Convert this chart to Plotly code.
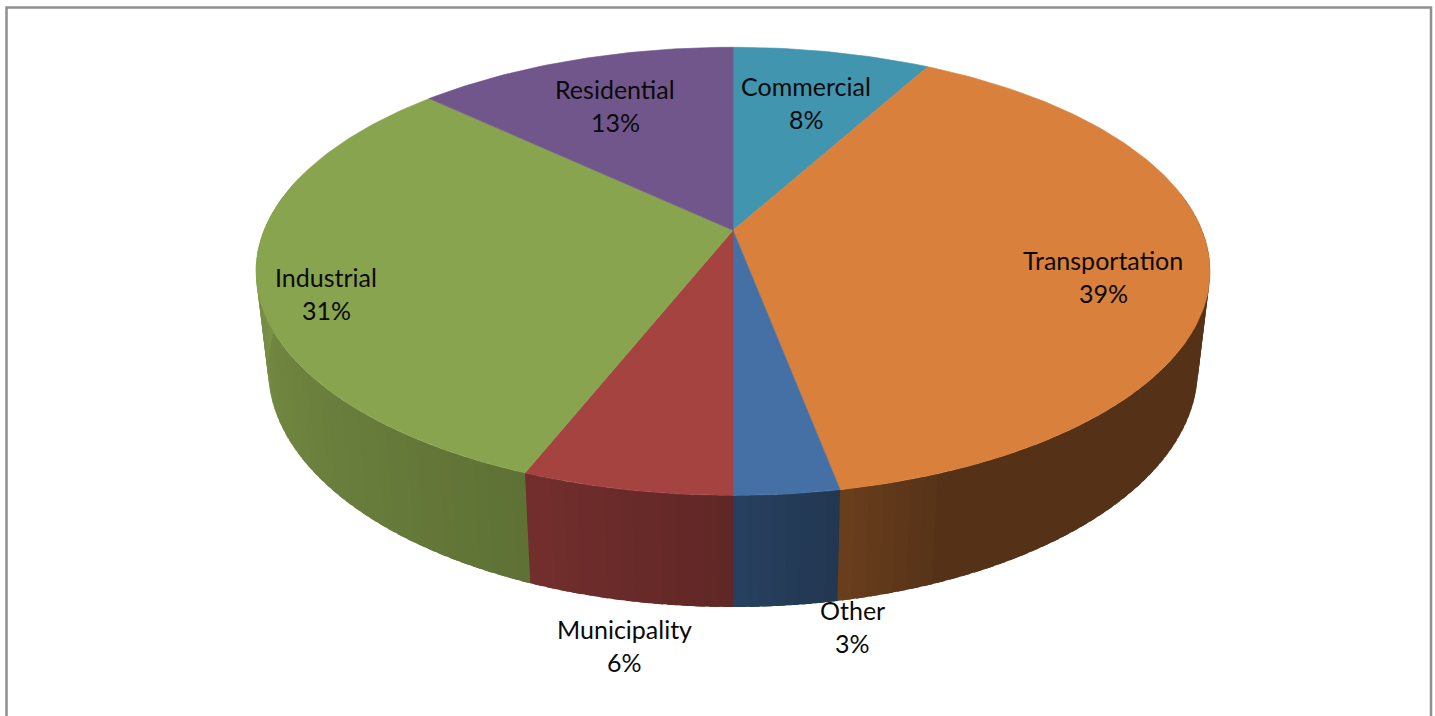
import numpy as np
import plotly.graph_objects as go

# Share of energy use by sector, clockwise from twelve o'clock
categories = ["Commercial", "Transportation", "Other", "Municipality", "Industrial", "Residential"]
shares = [8, 39, 3, 6, 31, 13]
top_colors = ["#4295ae", "#d9803c", "#4470a5", "#a54341", "#89a44e", "#71568c"]

# Label anchors for each sector (name line, in page pixels)
label_x = [806, 1103, 852, 624, 326, 615]
label_y = [85.5, 259.5, 609.5, 628.5, 276.5, 88.5]
LINE_GAP = 33

# Projection of the disc's two faces onto the page
CX = 733.0
TILT = 0.183
TOP = dict(scale=469.0, depth=174.4, y0=230.3)
BOTTOM = dict(scale=457.0, depth=170.0, y0=326.0)

# Wall lighting against clockwise angle in degrees
LIGHT_ANGLE = [80, 158, 169, 180, 201, 240, 270, 285]
LIGHT_LEVEL = [0.39, 0.39, 0.49, 0.58, 0.69, 0.80, 0.89, 0.89]


def project(theta_deg, face):
    t = np.radians(theta_deg)
    u, v = np.sin(t), np.cos(t)
    w = 1 + TILT * v
    return CX + face["scale"] * u / w, (face["y0"] - face["depth"] * v) / w


def shade(hex_color, level):
    rgb = [int(hex_color[i:i + 2], 16) for i in (1, 3, 5)]
    return "rgb({},{},{})".format(*[round(c * level) for c in rgb])


edges = np.concatenate([[0], np.cumsum(shares)]) * 3.6
fig = go.Figure()

# Side wall, built from narrow lit strips; each runs slightly under the next to hide seams
STEP = 1.5
OVERLAP = 1.0
for i, color in enumerate(top_colors):
    a0, a1 = max(edges[i], LIGHT_ANGLE[0]), min(edges[i + 1], LIGHT_ANGLE[-1])
    if a1 <= a0:
        continue
    n = max(1, int(np.ceil((a1 - a0) / STEP)))
    stops = np.linspace(a0, a1, n + 1)
    for s0, s1 in zip(stops[:-1], stops[1:]):
        arc = np.linspace(s0, s1 + OVERLAP, 3)
        xt, yt = project(arc, TOP)
        xb, yb = project(arc[::-1], BOTTOM)
        strip = shade(color, np.interp((s0 + s1) / 2, LIGHT_ANGLE, LIGHT_LEVEL))
        fig.add_trace(go.Scatter(
            x=np.concatenate([xt, xb, xt[:1]]), y=np.concatenate([yt, yb, yt[:1]]),
            mode="lines", fill="toself", fillcolor=strip,
            line=dict(width=0), hoverinfo="skip", showlegend=False,
        ))

# Top face wedges, meeting at the projected centre of the disc
for i, (name, color) in enumerate(zip(categories, top_colors)):
    arc = np.linspace(edges[i], edges[i + 1], max(8, int(shares[i] * 4)))
    xt, yt = project(arc, TOP)
    fig.add_trace(go.Scatter(
        x=np.concatenate([[CX], xt, [CX]]), y=np.concatenate([[TOP["y0"]], yt, [TOP["y0"]]]),
        mode="lines", fill="toself", fillcolor=color,
        line=dict(color=color, width=0.6), name=name, showlegend=False,
        text=f"{name}: {shares[i]}%", hoverinfo="text",
    ))

# Sector names and percentages
for name, share, x, y in zip(categories, shares, label_x, label_y):
    for text, row in ((name, y), (f"{share}%", y + LINE_GAP)):
        fig.add_annotation(x=x, y=row, text=text, showarrow=False, xref="x", yref="y",
                           xanchor="center", yanchor="middle",
                           font=dict(family="Lato", size=25, color="#0a0a0a"))

fig.update_layout(
    width=1435, height=716, margin=dict(l=0, r=0, t=0, b=0),
    paper_bgcolor="white", plot_bgcolor="white", showlegend=False,
    xaxis=dict(range=[0, 1435], visible=False, fixedrange=True),
    yaxis=dict(range=[716, 0], visible=False, fixedrange=True),
    shapes=[dict(type="rect", x0=6.5, y0=7.5, x1=1431, y1=740,
                 line=dict(color="#8f8f8f", width=2.5), layer="below")],
)
fig.write_html("out.html", config=dict(displayModeBar=False))
